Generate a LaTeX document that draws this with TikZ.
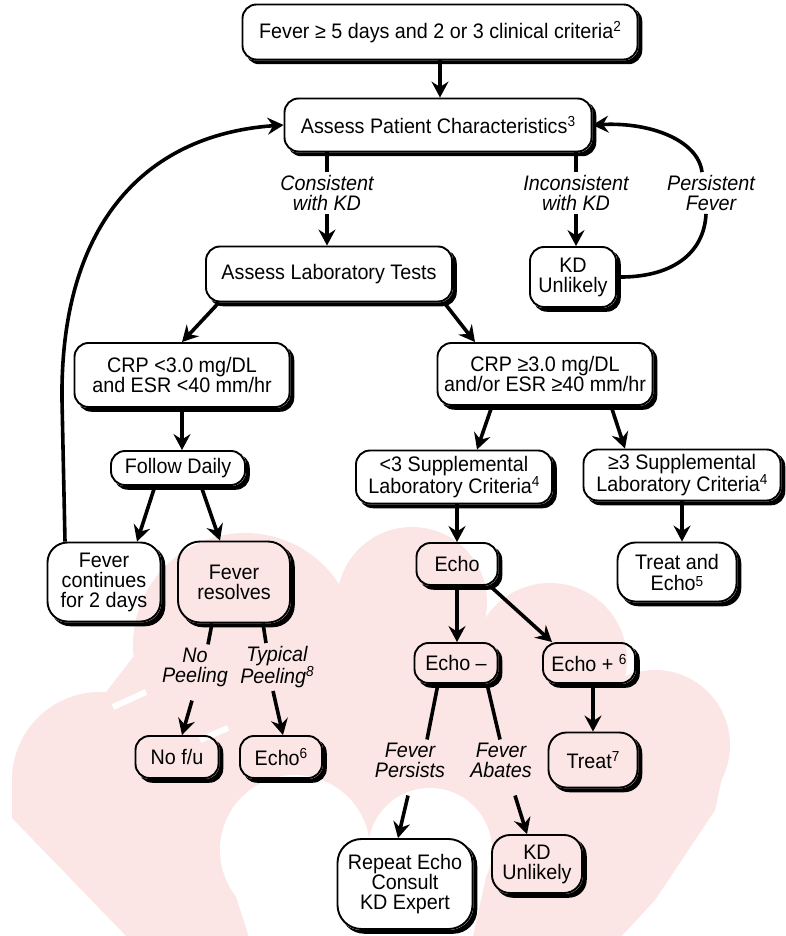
\documentclass[tikz,border=0pt]{standalone}
\usepackage{fontspec}
\setmainfont{Liberation Sans}[FakeStretch=0.94]
\usetikzlibrary{arrows.meta,calc}
\definecolor{wm}{RGB}{252,229,229}
\newcommand\sps[2][6.5pt]{\raisebox{#1}{\fontsize{14.5}{14.5}\selectfont #2}}
\newcommand\shd[2][14pt]{%
 \begin{scope}[even odd rule, rounded corners=#1]
  \clip (-100,-100) rectangle (900,1050) (#2.north east) rectangle (#2.south west);
  \fill[black] ([shift={(3.8pt,-3.8pt)}]#2.north east) rectangle ([shift={(3.8pt,-3.8pt)}]#2.south west);
 \end{scope}}
\begin{document}
\begin{tikzpicture}[x=1pt,y=-1pt,
  box/.style={draw, line width=1.9pt, rounded corners=14pt, inner sep=0pt, align=center, font=\fontsize{21}{20}\selectfont},
  lbl/.style={inner sep=3pt, align=center, font=\fontsize{21}{20}\selectfont\itshape},
  arr/.style={line width=3.6pt, -{Stealth[length=16pt,width=17pt,inset=5.5pt]}},
  ln/.style={line width=3.6pt}]
\useasboundingbox (0,0) rectangle (785,936);
\fill[white] (0,0) rectangle (785,936);

% watermark
\fill[wm] (245,645) circle (112pt);
\fill[wm] (412,602) circle (75pt);
\fill[wm] (550,660) circle (77pt);
\fill[wm] (655,745) circle (75pt);
\fill[wm] (100,780) circle (88pt);
\fill[wm] (100,700) -- (185,590) -- (300,630) -- (480,630) -- (600,690) -- (728,750) -- (715,810) -- (655,900) -- (618,940) -- (130,940) -- (12,818) -- (12,780) -- cycle;
\fill[white] (295,850) circle (75pt);
\fill[white] (430,850) circle (62pt);
\fill[white] (221,850) -- (492,850) -- (472,940) -- (250,940) -- cycle;
\draw[white, line width=6pt] (113,707) -- (146,692);
\draw[white, line width=6pt] (200,740) -- (228,728);

% boxes
\node[box, minimum width=395pt, minimum height=55pt] (t1) at (440,32) {Fever ≥ 5 days and 2 or 3 clinical criteria\sps{2}};
\node[box, minimum width=307pt, minimum height=53pt] (ap) at (438,125) {Assess Patient Characteristics\sps{3}};
\node[box, minimum width=246pt, minimum height=55pt] (lab) at (329,274) {Assess Laboratory Tests};
\node[box, minimum width=86pt, minimum height=60pt] (kd1) at (573,277) {KD\\Unlikely};
\node[box, minimum width=215pt, minimum height=64pt] (crp1) at (182,375) {CRP <3.0 mg/DL\\and ESR <40 mm/hr};
\node[box, minimum width=215pt, minimum height=62pt] (crp2) at (545,374) {CRP ≥3.0 mg/DL\\and/or ESR ≥40 mm/hr};
\node[box, minimum width=134pt, minimum height=34pt] (fd) at (178,468) {Follow Daily};
\node[box, minimum width=196pt, minimum height=53pt] (s1) at (454,477) {<3 Supplemental\\Laboratory Criteria\sps{4}};
\node[box, minimum width=197pt, minimum height=51pt] (s2) at (682,475) {≥3 Supplemental\\Laboratory Criteria\sps{4}};
\node[box, rounded corners=20pt, minimum width=113pt, minimum height=79pt] (fc) at (104,582) {Fever\\continues\\for 2 days};
\node[box, rounded corners=22pt, minimum width=112pt, minimum height=81pt] (fr) at (234,582) {Fever\\resolves};
\node[box, minimum width=81pt, minimum height=42pt] (echo) at (457,564) {Echo};
\node[box, rounded corners=18pt, minimum width=119pt, minimum height=59pt] (te) at (677,572) {Treat and\\[1pt]Echo\sps[3.5pt]{5}};
\node[box, minimum width=83pt, minimum height=40pt] (em) at (456,663) {Echo –};
\node[box, minimum width=92pt, minimum height=40pt] (ep) at (589,663) {Echo + \sps{6}};
\node[box, minimum width=83pt, minimum height=42pt] (nf) at (177,757) {No f/u};
\node[box, minimum width=82pt, minimum height=42pt] (ec6) at (281,757) {Echo\sps{6}};
\node[box, rounded corners=18pt, minimum width=89pt, minimum height=55pt] (tr) at (593,760) {Treat\sps{7}};
\node[box, rounded corners=24pt, minimum width=135pt, minimum height=90pt] (rep) at (405,884) {Repeat Echo\\Consult\\KD Expert};
\node[box, rounded corners=18pt, minimum width=90pt, minimum height=58pt] (kd2) at (537,864) {KD\\Unlikely};

% shadows
\shd{t1}\shd{ap}\shd{lab}\shd{kd1}\shd{crp1}\shd{crp2}\shd{fd}\shd{s1}\shd{s2}
\shd[20pt]{fc}\shd[22pt]{fr}\shd{echo}\shd[18pt]{te}\shd{em}\shd{ep}\shd{nf}\shd{ec6}
\shd[18pt]{tr}\shd[24pt]{rep}\shd[18pt]{kd2}

% labels
\node[lbl] (c1) at (327,193) {Consistent\\with KD};
\node[lbl] (ic) at (576,193) {Inconsistent\\with KD};
\node[lbl] (pf) at (711,193) {Persistent\\Fever};
\node[lbl] (np) at (195,667) {No\\Peeling};
\node[lbl] (tp) at (277,667) {Typical\\Peeling\sps{8}};
\node[lbl] (fp) at (410,760) {Fever\\Persists};
\node[lbl] (fa) at (501,760) {Fever\\Abates};

% connectors
\draw[arr] (t1.south) -- (t1.south |- ap.north);
\draw[ln] (ap.south -| c1.north) -- (c1.north);
\draw[arr] (c1.south) -- (c1.south |- lab.north);
\draw[ln] (ap.south -| ic.north) -- (ic.north);
\draw[arr] (ic.south) -- (ic.south |- kd1.north);
\draw[ln] (kd1.east) .. controls (670,278) and (704,255) .. ([xshift=-5pt]pf.south);
\draw[arr] ([xshift=-9pt]pf.north) .. controls (698,140) and (650,122) .. (ap.east);
\draw[arr] ([xshift=-39pt]fc.north) -- (62,400) .. controls (60,230) and (140,135) .. (ap.west);
\draw[arr] ([xshift=-110pt]lab.south) -- (crp1.north);
\draw[arr] ([xshift=115pt]lab.south) -- ([xshift=-70pt]crp2.north);
\draw[arr] (crp1.south) -- (crp1.south |- fd.north);
\draw[arr] ([xshift=-53pt]crp2.south) -- ([xshift=23pt]s1.north);
\draw[arr] ([xshift=66pt]crp2.south) -- ([xshift=-57pt]s2.north);
\draw[arr] ([xshift=-23pt]fd.south) -- ([xshift=33pt]fc.north);
\draw[arr] ([xshift=23pt]fd.south) -- ([xshift=-14pt]fr.north);
\draw[arr] (s1.south -| echo.north) -- (echo.north);
\draw[arr] (s2.south) -- (s2.south |- te.north);
\draw[arr] (echo.south) -- (echo.south |- em.north);
\draw[arr] ([xshift=33pt]echo.south) -- ([xshift=-37pt]ep.north);
\draw[arr] (tr.north |- ep.south) -- (tr.north);
\draw[ln] ([xshift=-22pt]fr.south) -- ([xshift=13pt]np.north);
\draw[ln] ([xshift=29pt]fr.south) -- ([xshift=-11pt]tp.north);
\draw[arr] ([shift={(-3pt,-11pt)}]np.south) -- ([xshift=5pt]nf.north);
\draw[arr] ([xshift=-4pt]tp.south) -- ([xshift=2pt]ec6.north);
\draw[ln] ([xshift=-18pt]em.south) -- ([xshift=17pt]fp.north);
\draw[ln] ([xshift=31pt]em.south) -- ([xshift=-1pt]fa.north);
\draw[arr] ([shift={(-2pt,-15pt)}]fp.south) -- ([xshift=-7pt]rep.north);
\draw[arr] ([shift={(14pt,-15pt)}]fa.south) -- ([xshift=-10pt]kd2.north);
\end{tikzpicture}
\end{document}
